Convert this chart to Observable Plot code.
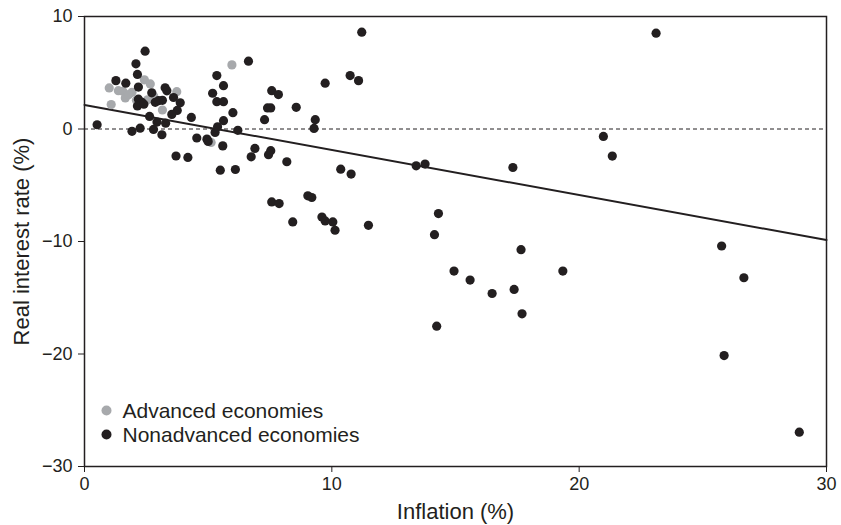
<!DOCTYPE html>
<html>
<head>
<meta charset="utf-8">
<script src="https://cdn.jsdelivr.net/npm/d3@7"></script>
<script src="https://cdn.jsdelivr.net/npm/@observablehq/plot@0.6"></script>
<style>
  body { margin: 0; background: #fff; }
  #chart svg { font-family: "Liberation Sans", Arial, sans-serif; }
</style>
</head>
<body>
<div id="chart"></div>
<script>
// Inflation (%) and real interest rate (%) per economy
const advancedEconomies = [
  [1.0, 3.65], [1.08, 2.17], [1.37, 3.41], [1.55, 3.35], [1.65, 2.76],
  [1.92, 3.26], [1.78, 3.05], [2.42, 4.37], [2.66, 4.01], [2.1, 2.55],
  [2.55, 2.6], [2.8, 2.9], [3.73, 3.32], [3.15, 1.69], [5.96, 5.7],
  [5.12, -1.19]
];

const nonadvancedEconomies = [
  [0.51, 0.38], [2.45, 6.92], [2.08, 5.79], [2.14, 4.85], [1.27, 4.3],
  [1.67, 4.07], [2.18, 3.73], [2.72, 3.22], [3.26, 3.66], [3.33, 3.39],
  [2.99, 2.52], [3.15, 2.55], [3.6, 2.8], [3.87, 2.33], [2.18, 2.65],
  [2.32, 2.38], [2.14, 2.05], [2.4, 2.2], [2.86, 2.37], [3.75, 1.65],
  [3.53, 1.3], [2.63, 1.12], [2.93, 0.62], [3.28, 0.52], [1.92, -0.21],
  [2.25, 0.07], [2.79, -0.04], [3.13, -0.51], [4.32, 1.03], [3.7, -2.4],
  [4.18, -2.53], [4.54, -0.8], [4.95, -0.9], [5.0, -1.1], [5.28, -0.3],
  [5.38, 0.2], [5.62, 0.74], [6.0, 1.45], [6.2, -0.12], [5.59, -1.5],
  [5.49, -3.66], [6.1, -3.6], [5.35, 4.75], [5.62, 3.85], [5.18, 3.18],
  [5.35, 2.43], [5.62, 2.43], [6.63, 6.03], [7.57, 3.41], [7.84, 3.06],
  [7.4, 1.87], [7.53, 1.87], [7.28, 0.83], [8.56, 1.93], [9.73, 4.07],
  [10.74, 4.75], [11.08, 4.3], [11.21, 8.61], [9.33, 0.83], [9.28, 0.05],
  [6.89, -1.73], [6.74, -2.47], [7.44, -2.29], [7.53, -1.93], [8.18, -2.91],
  [10.36, -3.57], [10.78, -4.01], [7.57, -6.48], [7.87, -6.63], [9.03, -5.94],
  [9.19, -6.09], [8.42, -8.26], [9.6, -7.82], [9.73, -8.17], [10.04, -8.26],
  [10.13, -9.0], [11.48, -8.56], [13.41, -3.27], [13.77, -3.12], [17.32, -3.42],
  [14.31, -7.52], [14.15, -9.39], [17.65, -10.73], [14.94, -12.63], [15.59, -13.43],
  [16.48, -14.62], [17.37, -14.26], [19.34, -12.63], [17.69, -16.43], [14.24, -17.53],
  [23.11, 8.52], [20.98, -0.66], [21.34, -2.41], [25.76, -10.4], [26.66, -13.22],
  [25.86, -20.14], [28.9, -26.95]
];

// Fitted line: end points of the regression across the inflation range
const fitInflation = [0, 30];
const fitRate = [2.14, -9.87];

const legendLabels = ["Advanced economies", "Nonadvanced economies"];
const legendColors = ["#a7a9ac", "#231f20"];

const xTicks = [0, 10, 20, 30];
const yTicks = [-30, -20, -10, 0, 10];

const ink = "#231f20";

const fitLine = fitInflation.map((x, i) => ({x, y: fitRate[i]}));

const legendMarks = legendLabels.flatMap((label, i) => [
  Plot.dot([label], {
    frameAnchor: "bottom-left", dx: 22, dy: -56 + 24 * i,
    r: 5, fill: legendColors[i], stroke: "none"
  }),
  Plot.text([label], {
    frameAnchor: "bottom-left", dx: 38, dy: -55 + 24 * i,
    text: d => d, textAnchor: "start", lineAnchor: "middle", fontSize: 21, fill: ink
  })
]);

const chart = Plot.plot({
  width: 841,
  height: 525,
  marginLeft: 84,
  marginRight: 15,
  marginTop: 16,
  marginBottom: 59,
  style: {fontSize: "18px", color: ink, background: "#fff"},
  x: {domain: [0, 30]},
  y: {domain: [-30, 10]},
  marks: [
    Plot.frame({stroke: ink, strokeWidth: 1.5}),
    Plot.axisX({ticks: xTicks, tickSize: 6, tickPadding: 5, label: null, fontSize: 18, stroke: ink}),
    Plot.axisY({ticks: yTicks, tickSize: 6, tickPadding: 6, label: null, fontSize: 18, stroke: ink}),
    Plot.text(["Inflation (%)"], {frameAnchor: "bottom", dy: 52, text: d => d, fontSize: 22, fill: ink}),
    Plot.text(["Real interest rate (%)"], {
      frameAnchor: "left", dx: -63, rotate: -90, textAnchor: "middle", lineAnchor: "middle",
      text: d => d, fontSize: 22, fill: ink
    }),
    Plot.ruleY([0], {stroke: ink, strokeWidth: 1, strokeDasharray: "4,3"}),
    Plot.line(fitLine, {x: "x", y: "y", stroke: ink, strokeWidth: 2}),
    Plot.dot(advancedEconomies, {x: d => d[0], y: d => d[1], r: 4.6, fill: legendColors[0], stroke: "none"}),
    Plot.dot(nonadvancedEconomies, {x: d => d[0], y: d => d[1], r: 4.6, fill: legendColors[1], stroke: "none"}),
    ...legendMarks
  ]
});

document.getElementById("chart").append(chart);
</script>
</body>
</html>
